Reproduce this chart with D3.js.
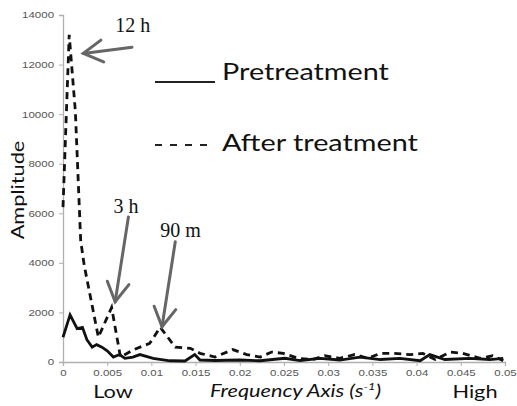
<!DOCTYPE html>
<html>
<head>
<meta charset="utf-8">
<script src="https://cdn.jsdelivr.net/npm/d3@7"></script>
<style>
  body { margin: 0; background: #fff; }
  svg { display: block; }
</style>
</head>
<body>
<div id="chart"></div>
<script>
// ----------- data ---------------------------------
const freqPre = [0, 0.0008, 0.0016, 0.0022, 0.0027, 0.0033, 0.0038, 0.0044, 0.005, 0.0057, 0.0064, 0.007, 0.0079, 0.0087, 0.0102, 0.0121, 0.0138, 0.0149, 0.0155, 0.0172, 0.0200, 0.0223, 0.0251, 0.0268, 0.0291, 0.0313, 0.0336, 0.0359, 0.0381, 0.0404, 0.0415, 0.0432, 0.0460, 0.0483, 0.0498];
const ampPre  = [1000, 1900, 1350, 1400, 900, 600, 700, 600, 450, 200, 300, 150, 200, 300, 150, 50, 40, 300, 80, 60, 80, 50, 150, 60, 150, 80, 200, 100, 150, 50, 300, 100, 150, 100, 150];

const freqPost = [0, 0.0007, 0.0014, 0.002, 0.0024, 0.004, 0.0055, 0.0065, 0.008, 0.0098, 0.011, 0.0127, 0.0144, 0.0155, 0.0172, 0.0192, 0.0208, 0.0223, 0.0236, 0.0249, 0.0266, 0.0282, 0.0296, 0.0313, 0.033, 0.0345, 0.0359, 0.0373, 0.0393, 0.0407, 0.0421, 0.0438, 0.0452, 0.0472, 0.0486, 0.0498];
const ampPost  = [6250, 13200, 10100, 4900, 3900, 1000, 2200, 200, 500, 750, 1400, 600, 550, 350, 200, 500, 300, 200, 400, 350, 150, 100, 250, 150, 300, 150, 350, 350, 300, 350, 100, 400, 350, 150, 250, 50];

const yTicks = [0, 2000, 4000, 6000, 8000, 10000, 12000, 14000];
const xTicks = [0, 0.005, 0.01, 0.015, 0.02, 0.025, 0.03, 0.035, 0.04, 0.045, 0.05];

// annotations: label, label anchor, arrow tail, arrow tip (data units)
const notes = [
  { label: "12 h", text: [0.0059, 13300], tail: [0.0078, 12700], tip: [0.0023, 12450] },
  { label: "3 h",  text: [0.0057, 6000],  tail: [0.0074, 5850],  tip: [0.0059, 2430] },
  { label: "90 m", text: [0.0110, 5050],  tail: [0.0127, 4850],  tip: [0.0112, 1420] }
];

// ----------- layout ------------
const width = 517;
const height = 406;
const stretch = 1.28; // the picture's sans text is wide, as if stretched sideways

const svg = d3.select("#chart")
  .append("svg")
  .attr("width", width)
  .attr("height", height);

const x = d3.scaleLinear().domain([0, 0.05]).range([63, 505]);
const y = d3.scaleLinear().domain([0, 14000]).range([362, 15]);

// axes
const yAxis = svg.append("g")
  .attr("transform", `translate(${x(0)},0)`)
  .call(d3.axisLeft(y).tickValues(yTicks).tickSize(4).tickPadding(3).tickFormat(d3.format("d")));

const xAxis = svg.append("g")
  .attr("transform", `translate(0,${y(0)})`)
  .call(d3.axisBottom(x).tickValues(xTicks).tickSize(4).tickPadding(4)
    .tickFormat(d => d === 0 ? "0" : d3.format(".3~f")(d)));

[yAxis, xAxis].forEach(g => {
  g.select(".domain").attr("stroke", "#b0b0b0").attr("stroke-width", 1.3);
  g.selectAll(".tick line").attr("stroke", "#b0b0b0");
  g.selectAll(".tick text")
    .attr("fill", "#555")
    .attr("transform", `scale(${stretch},1)`)
    .style("font-family", "Liberation Sans, Arial, sans-serif")
    .style("font-size", "9px");
});

// lines
const line = d3.line()
  .x(d => x(d[0]))
  .y(d => y(d[1]));

svg.append("path")
  .datum(d3.zip(freqPost, ampPost))
  .attr("d", line)
  .attr("fill", "none")
  .attr("stroke", "#111")
  .attr("stroke-width", 2.8)
  .attr("stroke-dasharray", "7,5");

svg.append("path")
  .datum(d3.zip(freqPre, ampPre))
  .attr("d", line)
  .attr("fill", "none")
  .attr("stroke", "#111")
  .attr("stroke-width", 2.8);

// arrows
notes.forEach(n => {
  const [tx, ty] = [x(n.tip[0]), y(n.tip[1])];
  const [sx, sy] = [x(n.tail[0]), y(n.tail[1])];
  const ang = Math.atan2(sy - ty, sx - tx);
  const head = 22, spread = 0.52;
  const g = svg.append("g")
    .attr("stroke", "#666")
    .attr("stroke-width", 3)
    .attr("fill", "none")
    .attr("stroke-linecap", "round");
  g.append("line").attr("x1", sx).attr("y1", sy).attr("x2", tx).attr("y2", ty);
  g.append("path")
    .attr("d", `M${tx + head * Math.cos(ang - spread)},${ty + head * Math.sin(ang - spread)}L${tx},${ty}L${tx + head * Math.cos(ang + spread)},${ty + head * Math.sin(ang + spread)}`)
    .attr("stroke-linejoin", "miter");

  svg.append("text")
    .attr("x", x(n.text[0]))
    .attr("y", y(n.text[1]))
    .attr("fill", "#111")
    .style("font-family", "Liberation Serif, Times New Roman, serif")
    .style("font-size", "20px")
    .text(n.label);
});

// stretched sans text helper
const sans = "Lato, Open Sans, sans-serif";
function label(px, py, txt, size, opts = {}) {
  const t = svg.append("text")
    .attr("transform", `translate(${px},${py}) ${opts.rotate ? "rotate(-90)" : ""} scale(${stretch},1)`)
    .attr("text-anchor", opts.anchor || "start")
    .style("font-family", sans)
    .style("font-size", size + "px")
    .style("font-style", opts.italic ? "italic" : "normal")
    .attr("fill", "#111");
  if (txt) t.text(txt);
  return t;
}

// legend
svg.append("line")
  .attr("x1", 155).attr("x2", 215).attr("y1", 82).attr("y2", 82)
  .attr("stroke", "#222").attr("stroke-width", 2);
label(222, 80, "Pretreatment", 22.5);

svg.append("line")
  .attr("x1", 155).attr("x2", 215).attr("y1", 145).attr("y2", 145)
  .attr("stroke", "#222").attr("stroke-width", 2)
  .attr("stroke-dasharray", "7,8");
label(222, 151, "After treatment", 22.5);

// axis titles
label(24, 190, "Amplitude", 17, { rotate: true, anchor: "middle" });
label(113, 398, "Low", 17, { anchor: "middle" });
label(475, 398, "High", 17, { anchor: "middle" });

const ft = label(210, 397, null, 17, { italic: true });
ft.append("tspan").text("Frequency Axis (s");
ft.append("tspan").attr("dy", -7).style("font-size", "10px").text("-1");
ft.append("tspan").attr("dy", 7).text(")");
</script>
</body>
</html>
